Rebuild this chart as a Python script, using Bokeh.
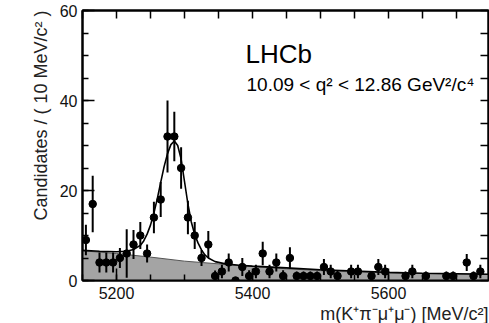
from bokeh.plotting import figure
from bokeh.models import Label, LinearAxis, FixedTicker, ColumnDataSource, Title
from bokeh.embed import file_html
from bokeh.resources import INLINE

# ---- data ----
mass = [5155, 5165, 5175, 5185, 5195, 5205, 5215, 5225, 5235, 5245,
        5255, 5265, 5275, 5285, 5295, 5305, 5315, 5325, 5335, 5345,
        5355, 5365, 5375, 5385, 5395, 5405, 5415, 5425, 5435, 5445,
        5455, 5465, 5475, 5485, 5495, 5505, 5515, 5525, 5545, 5555,
        5575, 5585, 5595, 5625, 5635, 5655, 5685, 5695, 5715, 5725, 5735]
counts = [9, 17, 4, 4, 4, 5, 6, 8, 10, 6,
          14, 18, 32, 32, 25, 14, 10, 5, 8, 1,
          2, 4, 0, 3, 1, 2, 6, 2, 4, 1,
          5, 1, 1, 1, 1, 3, 2, 1, 2, 2,
          1, 3, 2, 1, 2, 1, 1, 1, 4, 1, 2]
errs = [3.4, 6.3, 2.2, 2.2, 2.2, 2.2, 5.4, 3.2, 3.0, 2.0,
        3.5, 3.9, 8.0, 5.5, 4.6, 3.7, 3.0, 1.8, 3.0, 1.2,
        1.5, 2.0, 0.0, 2.0, 1.3, 1.5, 2.6, 1.5, 2.0, 1.3,
        2.4, 1.0, 1.0, 1.0, 1.0, 1.8, 1.5, 1.3, 1.5, 1.5,
        1.0, 1.8, 1.5, 1.0, 1.5, 1.0, 1.0, 1.0, 1.9, 1.0, 1.5]

fit_x = [5150, 5175, 5200, 5215, 5225, 5235, 5240, 5245, 5250, 5255,
         5260, 5265, 5270, 5275, 5280, 5285, 5290, 5295, 5300, 5305,
         5310, 5315, 5320, 5325, 5330, 5335, 5345, 5360, 5380, 5400,
         5450, 5500, 5550, 5600, 5650, 5700, 5747]
fit_y = [6.7, 6.5, 6.4, 6.5, 6.9, 7.8, 8.8, 10.3, 12.3, 15.0,
         18.2, 21.8, 25.3, 28.2, 30.2, 31.0, 30.0, 27.0, 22.0, 17.0,
         13.0, 10.2, 8.3, 6.8, 5.7, 5.0, 4.2, 3.7, 3.4, 3.2,
         2.8, 2.4, 2.1, 1.8, 1.6, 1.5, 1.4]

bkg_x = [5150, 5200, 5250, 5300, 5350, 5400, 5450, 5500, 5550, 5600, 5650, 5700, 5747]
bkg_y = [6.6, 6.0, 5.2, 4.3, 3.7, 3.1, 2.6, 2.2, 1.9, 1.7, 1.55, 1.45, 1.35]

x_major = [5200, 5400, 5600]
x_minor = list(range(5150, 5751, 50))
y_major = [0, 20, 40, 60]
y_minor = list(range(0, 61, 5))

FONT = "Liberation Sans"

p = figure(width=489, height=323, x_range=(5150, 5747), y_range=(0, 60),
           output_backend="svg", toolbar_location=None,
           min_border_left=82, min_border_right=1, min_border_top=10, min_border_bottom=43)
p.grid.visible = False
p.outline_line_color = "black"
p.outline_line_width = 2
p.background_fill_color = "white"
p.border_fill_color = "white"

bottom_ax = p.below[0]
left_ax = p.left[0]
bottom_ax.ticker = FixedTicker(ticks=x_major, minor_ticks=x_minor)
left_ax.ticker = FixedTicker(ticks=y_major, minor_ticks=y_minor)

# extra axes (top/right) with ticks only (no labels)
top_ax = LinearAxis(ticker=FixedTicker(ticks=[], minor_ticks=x_minor))
right_ax = LinearAxis(ticker=FixedTicker(ticks=[], minor_ticks=y_minor))
p.add_layout(top_ax, "above")
p.add_layout(right_ax, "right")

for ax in (bottom_ax, left_ax, top_ax, right_ax):
    ax.axis_line_width = 2
    ax.axis_line_color = "black"
    ax.major_tick_in = 12
    ax.major_tick_out = 0
    ax.minor_tick_in = 6
    ax.minor_tick_out = 0
    ax.major_tick_line_width = 1.5
    ax.minor_tick_line_width = 1.5
    ax.major_label_text_font = FONT
    ax.major_label_text_font_size = "16px"
    ax.major_label_text_color = "#111111"

for ax in (top_ax, right_ax):
    ax.minor_tick_in = 8
    ax.major_label_standoff = 0

bottom_ax.major_label_standoff = 6
left_ax.major_label_standoff = 5

# axis titles
p.add_layout(Title(text="Candidates / ( 10 MeV/c² )", align="right", text_font=FONT,
                   text_font_size="18px", text_font_style="normal", text_color="#222222",
                   standoff=12), "left")
p.add_layout(Title(text="m(K⁺π⁻μ⁺μ⁻) [MeV/c²]", align="right", text_font=FONT,
                   text_font_size="18px", text_font_style="normal", text_color="#222222",
                   standoff=0), "below")

# background component
p.varea(x=bkg_x, y1=0, y2=bkg_y, fill_color="#a4a4a4")
p.line(bkg_x, bkg_y, line_color="#555555", line_width=1)

# total fit
p.line(fit_x, fit_y, line_color="black", line_width=1.6)

# data with error bars
lo = [c - e for c, e in zip(counts, errs)]
hi = [c + e for c, e in zip(counts, errs)]
src = ColumnDataSource(dict(x=mass, y=counts, lo=lo, hi=hi))
p.segment(x0="x", y0="lo", x1="x", y1="hi", source=src, line_color="black", line_width=2)
p.scatter(x="x", y="y", source=src, size=7.5, color="black")

# texts in the frame
p.add_layout(Label(x=5389.7, y=50.4, text="LHCb", text_font=FONT, text_font_size="26px",
                   text_align="left", text_baseline="alphabetic", text_color="black"))
p.add_layout(Label(x=5391.2, y=43.6, text="10.09 < q² < 12.86 GeV²/c⁴", text_font=FONT,
                   text_font_size="19px", text_align="left", text_baseline="alphabetic",
                   text_color="black"))

open("out.html", "w").write(file_html(p, INLINE))
